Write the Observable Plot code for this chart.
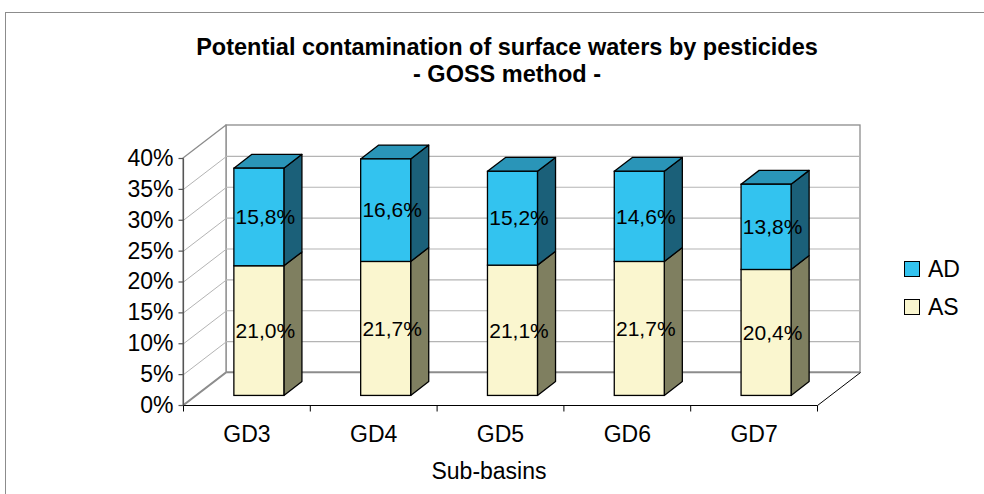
<!DOCTYPE html>
<html>
<head>
<meta charset="utf-8">
<script src="https://cdn.jsdelivr.net/npm/d3@7"></script>
<script src="https://cdn.jsdelivr.net/npm/@observablehq/plot@0.6"></script>
<style>
  html, body { margin: 0; padding: 0; background: #fff; }
  #wrap { position: relative; width: 984px; height: 494px; overflow: hidden; font-family: "Liberation Sans", Arial, sans-serif; color: #000; }
  #box { position: absolute; left: 5px; top: 12px; width: 1004px; height: 520px; border: 1px solid #8c8c8c; box-sizing: border-box; }
  #title { position: absolute; left: 5px; width: 1004px; top: 34px; text-align: center; font-weight: bold; font-size: 23.5px; line-height: 27px; }
  #xtitle { position: absolute; left: 389px; width: 200px; top: 458px; text-align: center; font-size: 23px; line-height: 27px; }
  .leg { position: absolute; left: 904px; display: flex; align-items: center; font-size: 23px; }
  .leg span.sw { display: inline-block; width: 16px; height: 16px; border: 1px solid #000; box-sizing: border-box; margin-right: 8px; }
  #chart svg { position: absolute; left: 0; top: 0; overflow: visible; }
</style>
</head>
<body>
<div id="wrap">
  <div id="box"></div>
  <div id="chart"></div>
  <div id="title"></div>
  <div id="xtitle"></div>
  <div id="legend"></div>
</div>
<script>
// ---- data ----
const titleLines = ["Potential contamination of surface waters by pesticides", "- GOSS method -"];
const xTitle = "Sub-basins";
const categories = ["GD3", "GD4", "GD5", "GD6", "GD7"];
const seriesNames = ["AS", "AD"];
const AS = [21.0, 21.7, 21.1, 21.7, 20.4];
const AD = [15.8, 16.6, 15.2, 14.6, 13.8];
const yTicks = [0, 5, 10, 15, 20, 25, 30, 35, 40];
const yTickLabels = ["0%", "5%", "10%", "15%", "20%", "25%", "30%", "35%", "40%"];
const labelText = (v) => v.toFixed(1).replace(".", ",") + "%";

// ---- styles ----
const faceColors = {
  AS: {front: "#faf6cf", side: "#7f7f60", top: "#c8c4a4"},
  AD: {front: "#33c3ef", side: "#1b6079", top: "#2a95b8"}
};

// ---- layout ----
const W = 984, H = 494;
const mL = 183, mR = 167, mT = 158, mB = 89;
const yMax = 40;
const nCat = categories.length;
const kx = (W - mL - mR) / nCat;          // px per category unit
const ky = (H - mT - mB) / yMax;          // px per percent
const depthPx = [43, 33];                  // full depth offset (right, up)
const DX = depthPx[0] / kx, DY = depthPx[1] / ky;
const f0 = 0.29, f1 = 0.71;                // bar front/back depth fractions
const fx = DX * f0, fy = DY * f0, bx = DX * f1, by = DY * f1;
const hw = 25 / kx;                        // half bar width

// stacked segments
const segs = [];
categories.forEach((c, i) => {
  let base = 0;
  [AS[i], AD[i]].forEach((v, s) => {
    segs.push({cat: c, i, series: seriesNames[s], y0: base, y1: base + v, v, top: s === 1});
    base += v;
  });
});

const sideData = [];
segs.forEach((d, k) => {
  const xr = d.i + 0.5 + hw;
  sideData.push({k, fill: faceColors[d.series].side, x: xr + fx, y1: d.y0 + fy, y2: d.y1 + fy});
  sideData.push({k, fill: faceColors[d.series].side, x: xr + bx, y1: d.y0 + by, y2: d.y1 + by});
});
const topData = [];
segs.filter(d => d.top).forEach((d, k) => {
  const xl = d.i + 0.5 - hw, xr = d.i + 0.5 + hw;
  topData.push({k, fill: faceColors[d.series].top, y: d.y1 + fy, x1: xl + fx, x2: xr + fx});
  topData.push({k, fill: faceColors[d.series].top, y: d.y1 + by, x1: xl + bx, x2: xr + bx});
});

const gridIn = yTicks.filter(v => v > 0 && v < yMax);
const one = [0];
const wallGray = "#8c8c8c", gridGray = "#b4b4b4";

const chart = Plot.plot({
  width: W, height: H,
  marginLeft: mL, marginRight: mR, marginTop: mT, marginBottom: mB,
  x: {domain: [0, nCat], axis: null},
  y: {domain: [0, yMax], axis: null},
  style: {fontFamily: "Liberation Sans, Arial, sans-serif", color: "#000", background: "transparent", overflow: "visible"},
  marks: [
    // back wall
    Plot.rect(one, {x1: () => DX, x2: () => nCat + DX, y1: () => DY, y2: () => yMax + DY, fill: "white", stroke: wallGray, strokeWidth: 1.3}),
    // left wall
    Plot.areaY([0, 1], {x: t => t * DX, y1: t => t * DY, y2: t => yMax + t * DY, fill: "white", stroke: wallGray, strokeWidth: 1.3}),
    // gridlines on back wall and left wall
    Plot.ruleY(gridIn, {y: v => v + DY, x1: () => DX, x2: () => nCat + DX, stroke: gridGray, strokeWidth: 1.2}),
    Plot.link(gridIn, {x1: () => 0, y1: v => v, x2: () => DX, y2: v => v + DY, stroke: gridGray, strokeWidth: 1}),
    // floor
    Plot.link(one, {x1: () => DX, y1: () => DY, x2: () => nCat + DX, y2: () => DY, stroke: wallGray, strokeWidth: 1.3}),
    Plot.link(one, {x1: () => 0, y1: () => 0, x2: () => DX, y2: () => DY, stroke: wallGray, strokeWidth: 1.3}),
    Plot.link(one, {x1: () => nCat, y1: () => 0, x2: () => nCat + DX, y2: () => DY, stroke: "#000", strokeWidth: 1}),
    // front axis lines
    Plot.link(one, {x1: () => 0, y1: () => 0, x2: () => nCat, y2: () => 0, stroke: "#000", strokeWidth: 1.2}),
    Plot.link(one, {x1: () => 0, y1: () => 0, x2: () => 0, y2: () => yMax, stroke: "#555", strokeWidth: 1.2}),
    // tick marks
    Plot.link(yTicks, {x1: () => 0, y1: v => v, x2: () => -5 / kx, y2: v => v, stroke: "#555", strokeWidth: 1.2}),
    Plot.link(d3.range(nCat + 1), {x1: v => v, y1: () => 0, x2: v => v, y2: () => -6 / ky, stroke: "#000", strokeWidth: 1}),
    // tick labels
    Plot.text(yTicks, {x: () => 0, y: v => v, text: (v, i) => yTickLabels[i], textAnchor: "end", dx: -10, fontSize: 23, fill: "#000"}),
    Plot.text(categories, {x: (d, i) => i + 0.5, y: () => 0, text: d => d, dy: 29, fontSize: 23, fill: "#000"}),
    // bars: side faces, top faces, front faces
    Plot.areaY(sideData, {x: "x", y1: "y1", y2: "y2", z: "k", fill: "fill", stroke: "#000", strokeWidth: 1.3, strokeLinejoin: "round"}),
    Plot.areaX(topData, {y: "y", x1: "x1", x2: "x2", z: "k", fill: "fill", stroke: "#000", strokeWidth: 1.3, strokeLinejoin: "round"}),
    Plot.rect(segs, {x1: d => d.i + 0.5 - hw + fx, x2: d => d.i + 0.5 + hw + fx, y1: d => d.y0 + fy, y2: d => d.y1 + fy,
      fill: d => faceColors[d.series].front, stroke: "#000", strokeWidth: 1.3}),
    // bar labels
    Plot.text(segs, {x: d => d.i + 0.5 + fx + 6 / kx, y: d => (d.y0 + d.y1) / 2 + fy, text: d => labelText(d.v), fontSize: 21, fill: "#000"})
  ]
});
document.getElementById("chart").appendChild(chart);

document.getElementById("title").innerHTML = titleLines.join("<br>");
document.getElementById("xtitle").textContent = xTitle;

// legend (AD above AS, as in reference)
const legendOrder = ["AD", "AS"];
const legendTop = {AD: 255, AS: 293};
const leg = document.getElementById("legend");
legendOrder.forEach(s => {
  const row = document.createElement("div");
  row.className = "leg";
  row.style.top = legendTop[s] + "px";
  row.style.height = "28px";
  const sw = document.createElement("span");
  sw.className = "sw";
  sw.style.background = faceColors[s].front;
  const t = document.createElement("span");
  t.textContent = s;
  row.appendChild(sw); row.appendChild(t);
  leg.appendChild(row);
});
</script>
</body>
</html>
